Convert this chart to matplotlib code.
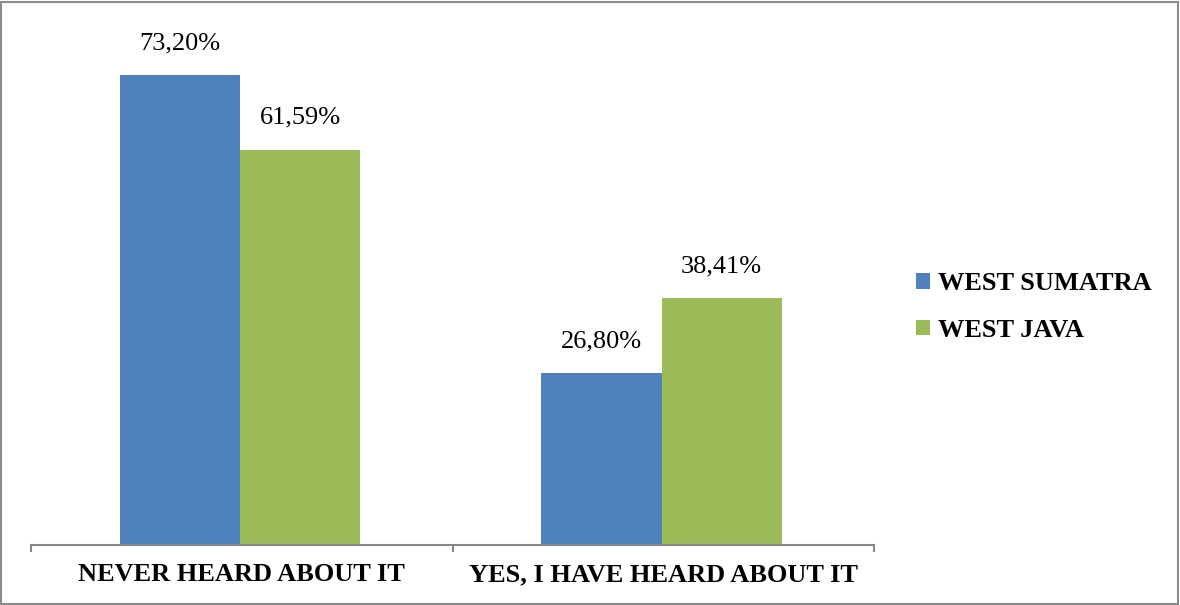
import numpy as np
import matplotlib.pyplot as plt
from matplotlib.patches import Rectangle

plt.rcParams['font.family'] = ['Liberation Serif', 'DejaVu Serif']

categories = ["NEVER HEARD ABOUT IT", "YES, I HAVE HEARD ABOUT IT"]
series = ["WEST SUMATRA", "WEST JAVA"]
west_sumatra = [73.20, 26.80]
west_java = [61.59, 38.41]
colors = ["#4F81BD", "#9BBB59"]

fig = plt.figure(figsize=(11.8, 6.05), dpi=100)
fig.patches.append(Rectangle((0.001, 0.002), 0.997, 0.995, transform=fig.transFigure,
                             fill=False, edgecolor="#8c8c8c", linewidth=1.5))

ax = fig.add_axes([31 / 1180, 60 / 605, 843 / 1180, 525 / 605])
x = np.arange(len(categories))
w = 0.285
for i, (vals, name) in enumerate(zip([west_sumatra, west_java], series)):
    pos = x + (i - 0.5) * w - 0.004
    bars = ax.bar(pos, vals, w, color=colors[i], label=name)
    for b, v in zip(bars, vals):
        ax.annotate(f"{v:.2f}%".replace(".", ","), (b.get_x() + b.get_width() / 2, v),
                    xytext=(0, 23), textcoords="offset points", ha="center", va="center",
                    fontsize=19)

ax.set_xlim(-0.5, 1.5)
ax.set_ylim(0, 81.8)
for s in ["top", "right", "left"]:
    ax.spines[s].set_visible(False)
ax.spines["bottom"].set_color("#868686")
ax.spines["bottom"].set_linewidth(1.5)
ax.set_yticks([])
ax.set_xticks(x)
ax.set_xticklabels(categories, fontsize=19, fontweight="bold")
ax.tick_params(axis="x", which="major", length=0, pad=13)
ax.set_xticks([-0.5, 0.5, 1.5], minor=True)
ax.tick_params(axis="x", which="minor", length=5, width=1.5, color="#868686", direction="out")

ax.legend(loc="center left", bbox_to_anchor=(905 / 1180, 298 / 605), bbox_transform=fig.transFigure,
          frameon=False, prop={"size": 19, "weight": "bold"}, handlelength=0.55, handleheight=0.55,
          handletextpad=0.3, labelspacing=0.9, borderaxespad=0)

fig.savefig("out.png")
